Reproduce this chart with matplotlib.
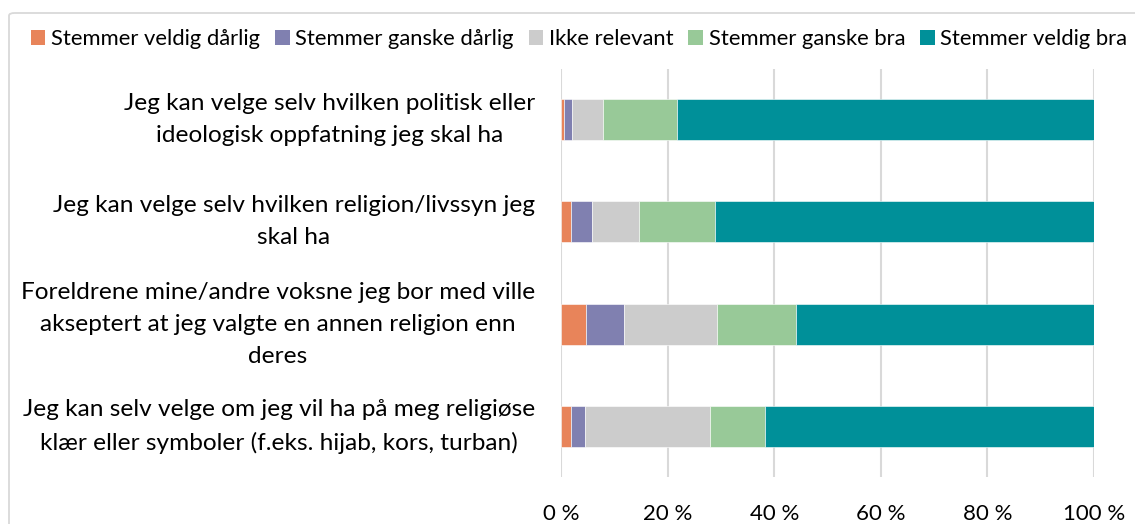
import matplotlib
matplotlib.use("Agg")
import matplotlib.pyplot as plt
from matplotlib.patches import FancyBboxPatch, Patch
from matplotlib.transforms import blended_transform_factory

plt.rcParams['font.family'] = ['Lato', 'DejaVu Sans']

categories = [
    "Jeg kan velge selv hvilken politisk eller\nideologisk oppfatning jeg skal ha",
    "Jeg kan velge selv hvilken religion/livssyn jeg\nskal ha",
    "Foreldrene mine/andre voksne jeg bor med ville\nakseptert at jeg valgte en annen religion enn\nderes",
    "Jeg kan selv velge om jeg vil ha på meg religiøse\nklær eller symboler (f.eks. hijab, kors, turban)",
]
series_names = ["Stemmer veldig dårlig", "Stemmer ganske dårlig", "Ikke relevant",
                "Stemmer ganske bra", "Stemmer veldig bra"]
veldig_darlig = [0.6, 1.9, 4.7, 1.8]
ganske_darlig = [1.5, 4.0, 7.1, 2.7]
ikke_relevant = [5.7, 8.7, 17.5, 23.4]
ganske_bra = [14.0, 14.3, 14.7, 10.3]
veldig_bra = [78.2, 71.1, 56.0, 61.8]
xticks = [0, 20, 40, 60, 80, 100]
xtick_labels = ["0 %", "20 %", "40 %", "60 %", "80 %", "100 %"]

colors = ["#E8845A", "#8080B0", "#CCCCCC", "#98C998", "#009099"]
series = [veldig_darlig, ganske_darlig, ikke_relevant, ganske_bra, veldig_bra]

W, H = 1135, 524
fig = plt.figure(figsize=(W / 100, H / 100), dpi=100)
fig.patch.set_facecolor("white")

# chart border
border = FancyBboxPatch((9 / W, 1 - 534 / H), (1160 - 9) / W, (534 - 13) / H,
                        boxstyle="round,pad=0,rounding_size=0.005",
                        transform=fig.transFigure, facecolor="none",
                        edgecolor="#D9D9D9", linewidth=1.3, clip_on=False)
fig.patches.append(border)

ax = fig.add_axes([561 / W, 1 - 477.4 / H, (1094 - 561) / W, (477.4 - 68.6) / H])
n = len(categories)
ypos = list(range(n))
left = [0.0] * n
handles = []
for vals, col, name in zip(series, colors, series_names):
    ax.barh(ypos, vals, left=left, height=0.4, color=col, edgecolor="white",
            linewidth=0.4, zorder=3)
    left = [a + b for a, b in zip(left, vals)]
    handles.append(Patch(facecolor=col, edgecolor="none", label=name))

ax.set_xlim(0, 100)
ax.set_ylim(n - 0.5, -0.5)
ax.set_xticks(xticks)
ax.set_xticklabels(xtick_labels, fontsize=16, color="#000000")
ax.tick_params(axis="x", length=0, pad=19)
ax.set_yticks([])
for s in ax.spines.values():
    s.set_visible(False)
ax.grid(axis="x", color="#D9D9D9", linewidth=1.5, zorder=0)
ax.set_axisbelow(True)

trans = blended_transform_factory(ax.transAxes, ax.transData)
for i, lab in enumerate(categories):
    ax.text(-26 / (1094 - 561), i, lab, transform=trans, ha="right", va="center",
            multialignment="center", fontsize=17.6, linespacing=1.65, color="#000000")

fig.legend(handles=handles, loc="center left", bbox_to_anchor=(31 / W, 1 - 39 / H),
           ncol=5, frameon=False, fontsize=15.8, handlelength=0.66, handleheight=0.66,
           handletextpad=0.26, columnspacing=0.68, borderpad=0, borderaxespad=0)

fig.savefig("out.png", dpi=100)
